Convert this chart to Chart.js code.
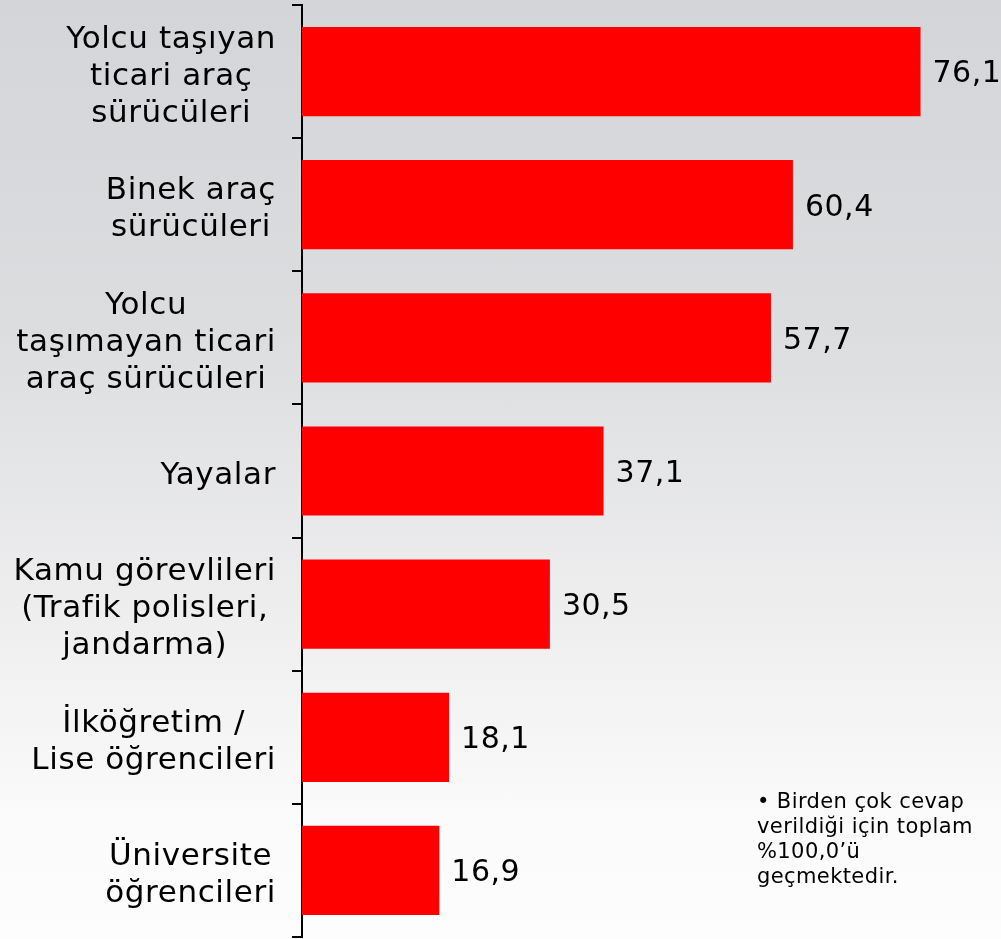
<!DOCTYPE html>
<html>
<head>
<meta charset="utf-8">
<script src="https://cdn.jsdelivr.net/npm/chart.js@4.4.1/dist/chart.umd.min.js"></script>
<style>
  html, body { margin: 0; padding: 0; }
  body {
    width: 1001px; height: 939px; overflow: hidden; position: relative;
    background: linear-gradient(#d4d5d8 0%, #dcdddf 35%, #eeeeef 65%, #fbfbfb 88%, #fdfdfd 100%);
    font-family: "DejaVu Sans", Verdana, sans-serif;
  }
  #wrap { position: absolute; left: 0; top: 0; width: 1001px; height: 939px; }
  #note { position: absolute; left: 757px; top: 789px; font-size: 21px; letter-spacing: 0.4px; line-height: 25px; color: #000; }
</style>
</head>
<body>
<div id="wrap"><canvas id="chart"></canvas></div>
<div id="note">• Birden çok cevap<br>verildiği için toplam<br>%100,0’ü<br>geçmektedir.</div>
<script>
// categories (each one split into the lines shown on the left)
const categories = [
  ['Yolcu taşıyan', 'ticari araç', 'sürücüleri'],
  ['Binek araç', 'sürücüleri'],
  ['Yolcu', 'taşımayan ticari', 'araç sürücüleri'],
  ['Yayalar'],
  ['Kamu görevlileri', '(Trafik polisleri,', 'jandarma)'],
  ['İlköğretim /', 'Lise öğrencileri'],
  ['Üniversite', 'öğrencileri']
];
const values = [76.1, 60.4, 57.7, 37.1, 30.5, 18.1, 16.9];
const valueLabels = ['76,1', '60,4', '57,7', '37,1', '30,5', '18,1', '16,9'];

const FONT = '"DejaVu Sans", Verdana, sans-serif';

// category labels: each block right-aligned against the axis, lines centred inside it
const catLabels = {
  id: 'catLabels',
  afterDraw(chart) {
    const ctx = chart.ctx;
    const y = chart.scales.y;
    ctx.save();
    ctx.font = '31px ' + FONT;
    ctx.letterSpacing = '0.6px';
    ctx.fillStyle = '#000';
    ctx.textAlign = 'center';
    ctx.textBaseline = 'middle';
    const lh = 37;
    categories.forEach((lines, i) => {
      const w = Math.max(...lines.map(l => ctx.measureText(l).width));
      const cx = y.right - 26 - w / 2;
      const cy = y.getPixelForValue(i) + 5;
      const top = cy - (lines.length - 1) * lh / 2;
      lines.forEach((l, k) => ctx.fillText(l, cx, top + k * lh));
    });
    ctx.restore();
  }
};

// values at the end of each bar
const barValues = {
  id: 'barValues',
  afterDatasetsDraw(chart) {
    const ctx = chart.ctx;
    const meta = chart.getDatasetMeta(0);
    ctx.save();
    ctx.font = '30px ' + FONT;
    ctx.letterSpacing = '0.5px';
    ctx.fillStyle = '#000';
    ctx.textAlign = 'left';
    ctx.textBaseline = 'middle';
    meta.data.forEach((bar, i) => {
      ctx.fillText(valueLabels[i], bar.x + 12, bar.y + 3);
    });
    ctx.restore();
  }
};

new Chart(document.getElementById('chart'), {
  type: 'bar',
  data: {
    labels: categories.map(c => c.join(' ')),
    datasets: [{
      data: values,
      backgroundColor: '#ff0000',
      borderWidth: 0,
      categoryPercentage: 1,
      barPercentage: 0.67
    }]
  },
  options: {
    indexAxis: 'y',
    responsive: true,
    maintainAspectRatio: false,
    animation: false,
    layout: { padding: { top: 5, bottom: 2, left: 0, right: 0 } },
    plugins: { legend: { display: false }, tooltip: { enabled: false } },
    scales: {
      x: { display: false, min: 0, max: 86 },
      y: {
        grid: {
          offset: true,
          drawOnChartArea: false,
          drawTicks: true,
          tickLength: 10,
          color: '#000',
          lineWidth: 2
        },
        border: { color: '#000', width: 2 },
        ticks: { display: false },
        afterFit(scale) { scale.width = 302; }
      }
    }
  },
  plugins: [catLabels, barValues]
});
</script>
</body>
</html>
